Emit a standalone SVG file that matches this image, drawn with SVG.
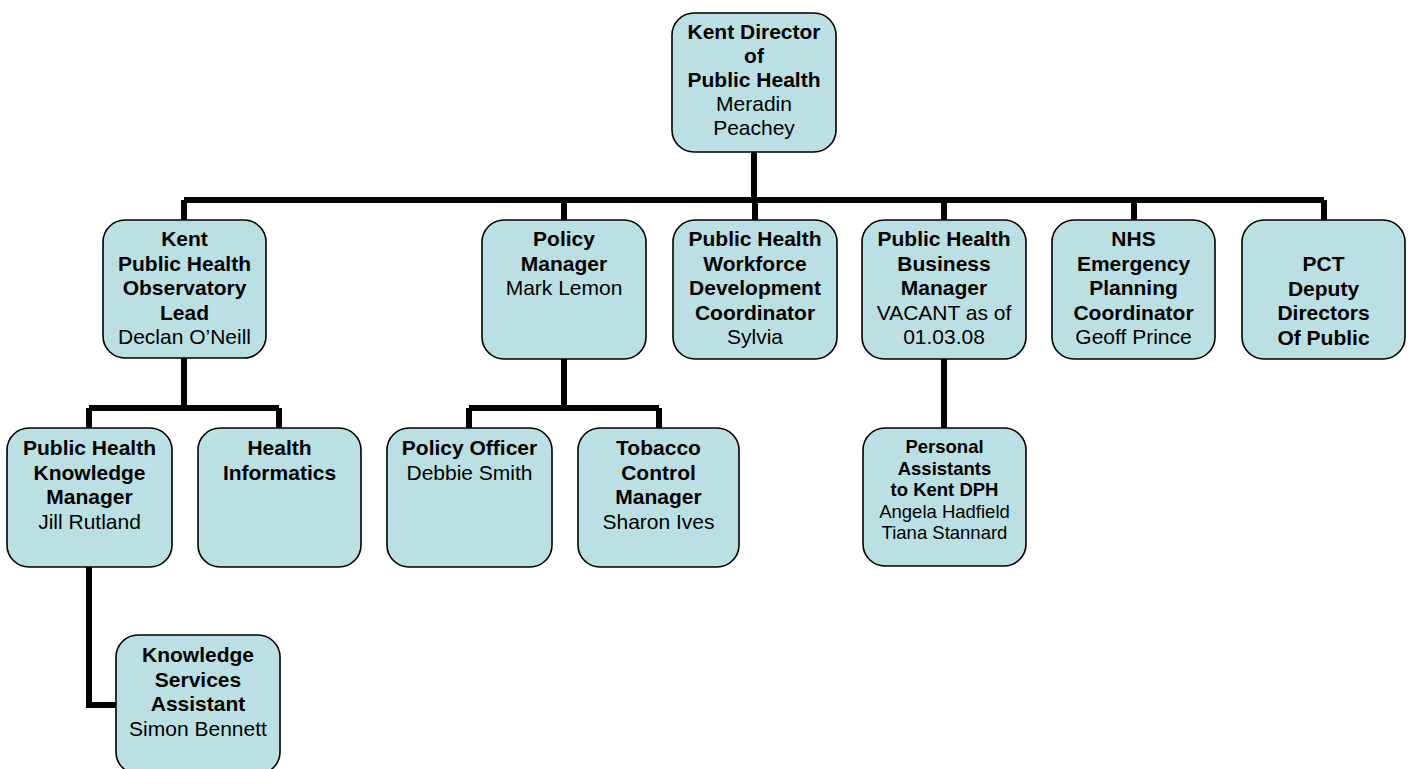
<svg xmlns="http://www.w3.org/2000/svg" width="1412" height="769" viewBox="0 0 1412 769">
<style>
.box{fill:#BBE0E3;stroke:#000;stroke-width:1.6}
.b{font-family:"Liberation Sans",Arial,sans-serif;font-weight:bold;font-size:21px;text-anchor:middle;fill:#000}
.r{font-family:"Liberation Sans",Arial,sans-serif;font-size:21px;text-anchor:middle;fill:#000}
.sm{font-size:18.5px}
.conn{fill:none;stroke:#000;stroke-width:6}
</style>
<rect width="1412" height="769" fill="#fff"/>
<g id="connectors">
<path class="conn" d="M754 152V200M184 200H1324M184 200V220M564 200V220M755 200V220M944 200V220M1134 200V220M1324 200V220"/>
<path class="conn" d="M184 358V408M89 408H279M89 408V428M279 408V428"/>
<path class="conn" d="M564 358V408M469 408H659M469 408V428M659 408V428"/>
<path class="conn" d="M944 358V428"/>
<path class="conn" d="M89 567V705H116"/>
</g>
<g id="director">
<rect class="box" x="672" y="13" width="164" height="139" rx="22"/>
<text class="b" x="754" y="39">Kent Director</text>
<text class="b" x="754" y="63">of</text>
<text class="b" x="754" y="87">Public Health</text>
<text class="r" x="754" y="111">Meradin</text>
<text class="r" x="754" y="135">Peachey</text>
</g>
<g id="pho-lead">
<rect class="box" x="103" y="220" width="163" height="138" rx="22"/>
<text class="b" x="184.5" y="246">Kent</text>
<text class="b" x="184.5" y="270.5">Public Health</text>
<text class="b" x="184.5" y="295">Observatory</text>
<text class="b" x="184.5" y="319.5">Lead</text>
<text class="r" x="184.5" y="344">Declan O’Neill</text>
</g>
<g id="policy-manager">
<rect class="box" x="482" y="220" width="164" height="139" rx="22"/>
<text class="b" x="564" y="246">Policy</text>
<text class="b" x="564" y="270.5">Manager</text>
<text class="r" x="564" y="295">Mark Lemon</text>
</g>
<g id="workforce">
<rect class="box" x="673" y="220" width="164" height="139" rx="22"/>
<text class="b" x="755" y="246">Public Health</text>
<text class="b" x="755" y="270.5">Workforce</text>
<text class="b" x="755" y="295">Development</text>
<text class="b" x="755" y="319.5">Coordinator</text>
<text class="r" x="755" y="344">Sylvia</text>
</g>
<g id="business-manager">
<rect class="box" x="862" y="220" width="164" height="139" rx="22"/>
<text class="b" x="944" y="246">Public Health</text>
<text class="b" x="944" y="270.5">Business</text>
<text class="b" x="944" y="295">Manager</text>
<text class="r" x="944" y="319.5">VACANT as of</text>
<text class="r" x="944" y="344">01.03.08</text>
</g>
<g id="emergency">
<rect class="box" x="1052" y="220" width="163" height="139" rx="22"/>
<text class="b" x="1133.5" y="246">NHS</text>
<text class="b" x="1133.5" y="270.5">Emergency</text>
<text class="b" x="1133.5" y="295">Planning</text>
<text class="b" x="1133.5" y="319.5">Coordinator</text>
<text class="r" x="1133.5" y="344">Geoff Prince</text>
</g>
<g id="pct">
<rect class="box" x="1242" y="220" width="163" height="139" rx="22"/>
<text class="b" x="1323.5" y="271">PCT</text>
<text class="b" x="1323.5" y="295.5">Deputy</text>
<text class="b" x="1323.5" y="320">Directors</text>
<text class="b" x="1323.5" y="344.5">Of Public</text>
</g>
<g id="knowledge-manager">
<rect class="box" x="7" y="428" width="165" height="139" rx="22"/>
<text class="b" x="89.5" y="455">Public Health</text>
<text class="b" x="89.5" y="479.5">Knowledge</text>
<text class="b" x="89.5" y="504">Manager</text>
<text class="r" x="89.5" y="528.5">Jill Rutland</text>
</g>
<g id="health-informatics">
<rect class="box" x="198" y="428" width="163" height="139" rx="22"/>
<text class="b" x="279.5" y="455">Health</text>
<text class="b" x="279.5" y="479.5">Informatics</text>
</g>
<g id="policy-officer">
<rect class="box" x="387" y="428" width="165" height="139" rx="22"/>
<text class="b" x="469.5" y="455">Policy Officer</text>
<text class="r" x="469.5" y="479.5">Debbie Smith</text>
</g>
<g id="tobacco">
<rect class="box" x="578" y="428" width="161" height="139" rx="22"/>
<text class="b" x="658.5" y="455">Tobacco</text>
<text class="b" x="658.5" y="479.5">Control</text>
<text class="b" x="658.5" y="504">Manager</text>
<text class="r" x="658.5" y="528.5">Sharon Ives</text>
</g>
<g id="personal-assistants">
<rect class="box" x="863" y="428" width="163" height="138" rx="22"/>
<text class="b sm" x="944.5" y="453">Personal</text>
<text class="b sm" x="944.5" y="474.5">Assistants</text>
<text class="b sm" x="944.5" y="496">to Kent DPH</text>
<text class="r sm" x="944.5" y="517.5">Angela Hadfield</text>
<text class="r sm" x="944.5" y="539">Tiana Stannard</text>
</g>
<g id="knowledge-assistant">
<rect class="box" x="116" y="635" width="164" height="139" rx="22"/>
<text class="b" x="198" y="662">Knowledge</text>
<text class="b" x="198" y="686.5">Services</text>
<text class="b" x="198" y="711">Assistant</text>
<text class="r" x="198" y="735.5">Simon Bennett</text>
</g>
</svg>
